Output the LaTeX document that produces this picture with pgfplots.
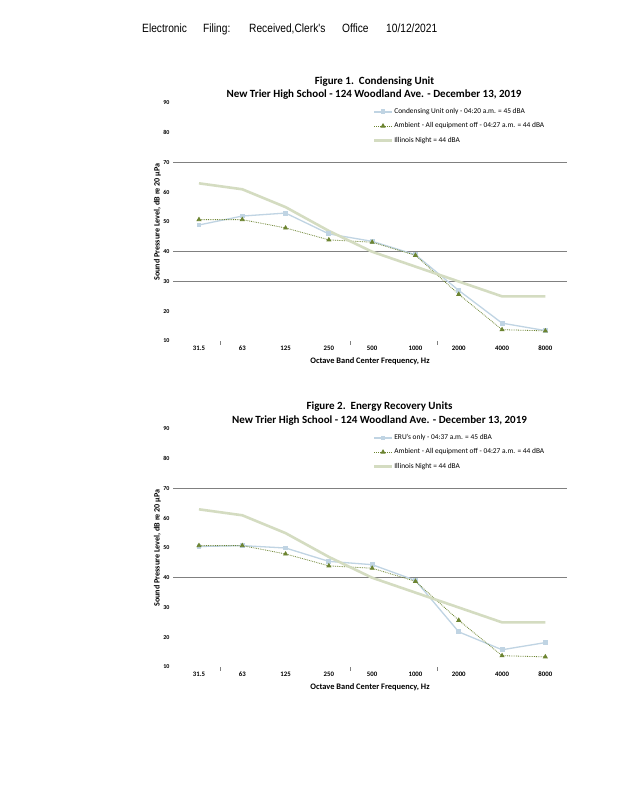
\documentclass[border=0pt]{standalone}
\usepackage{fontspec}
\setmainfont{Carlito}
\newfontfamily\hdrfont[FakeStretch=0.85]{Liberation Sans}
\usepackage{pgfplots}
\usepackage{pgfplotstable}
\pgfplotsset{compat=1.18}

\definecolor{cublue}{RGB}{192,212,227}
\definecolor{ambgreen}{RGB}{108,132,48}
\definecolor{ilgreen}{RGB}{212,220,193}
\definecolor{gridgray}{RGB}{128,128,128}

% x: 0=31.5 Hz ... 8=8000 Hz
\pgfplotstableread{
x  unit  amb   il
0  49.0  50.8  63
1  52.0  50.8  61
2  53.0  48.0  55
3  46.0  44.0  47
4  43.5  43.2  40
5  39.0  38.8  35
6  27.0  25.7  30
7  16.0  13.8  25
8  13.5  13.4  25
}\figone

\pgfplotstableread{
x  unit  amb   il
0  50.5  50.8  63
1  50.8  50.8  61
2  50.0  48.0  55
3  45.5  44.0  47
4  44.4  43.2  40
5  39.1  38.8  35
6  21.8  25.7  30
7  15.8  13.8  25
8  18.2  13.4  25
}\figtwo

\pgfplotsset{
  spl/.style={
    scale only axis, width=394pt, height=238pt,
    anchor=south west,
    xmin=-0.6, xmax=8.5, ymin=10, ymax=90,
    xtick={0,...,8},
    xticklabels={31.5,63,125,250,500,1000,2000,4000,8000},
    ytick={10,20,...,90},
    xtick pos=bottom, ytick pos=left,
    major tick length=0pt,
    axis line style={draw=none},
    /pgf/number format/assume math mode=true,
    x tick label style={yshift=-1.5pt, font=\bfseries\fontsize{6.8}{7}\selectfont},
    y tick label style={font=\bfseries\fontsize{6}{7}\selectfont},
    extra x ticks={0.5,3.5,5.5},
    extra x tick labels={},
    extra x tick style={major tick length=4pt, tick align=outside,
      tick style={draw=gridgray, line width=0.6pt}},
    extra y tick labels={},
    extra y tick style={grid=major,
      major grid style={draw=gridgray, line width=0.8pt}},
    xlabel={\bfseries Octave Band Center Frequency, Hz},
    xlabel style={at={(axis description cs:0.5,-0.083)}, anchor=center,
      font=\fontsize{8.4}{9}\selectfont},
    ylabel={\bfseries Sound Pressure Level, dB re 20 µPa},
    ylabel style={at={(axis description cs:-0.022,0.5)}, anchor=south,
      font=\fontsize{8.1}{9}\selectfont},
    legend style={at={(0.5,0.992)}, anchor=north west, draw=none, fill=none,
      font=\fontsize{7.4}{8}\selectfont, row sep=4.5pt,
      nodes={inner sep=1.5pt}},
    legend cell align=left,
  },
  unitline/.style={color=cublue, line width=1.3pt, mark=square*,
    mark size=1.8pt, mark options={solid, fill=cublue}},
  ambline/.style={color=ambgreen, line width=0.8pt, densely dotted,
    mark=triangle*, mark size=2.2pt, mark options={solid, fill=ambgreen}},
  illine/.style={color=ilgreen, line width=2.6pt},
}

\begin{document}
\begin{tikzpicture}
\path[use as bounding box, fill=white] (0,0) rectangle (618pt,800pt);

% filing stamp
\begin{scope}[every node/.style={anchor=base west, inner sep=0pt,
    font=\hdrfont\fontsize{12}{14}\selectfont}]
  \node at (142pt,767pt) {Electronic};
  \node at (203pt,767pt) {Filing:};
  \node at (249pt,767pt) {Received,Clerk's};
  \node at (342pt,767pt) {Office};
  \node at (386pt,767pt) {10/12/2021};
\end{scope}

% Figure 1
\node[font=\bfseries\fontsize{11}{13}\selectfont] at (374.5pt,718pt)
  {Figure 1.\ \ Condensing Unit};
\node[font=\bfseries\fontsize{11}{13}\selectfont] at (374pt,705pt)
  {New Trier High School - 124 Woodland Ave. - December 13, 2019};

\begin{axis}[spl, at={(173pt,459pt)}, extra y ticks={30,40,70}]
  \addplot[unitline] table[x=x, y=unit] {\figone};
  \addlegendentry{Condensing Unit only - 04:20 a.m. = 45 dBA}
  \addplot[ambline] table[x=x, y=amb] {\figone};
  \addlegendentry{Ambient - All equipment off - 04:27 a.m. = 44 dBA}
  \addplot[illine] table[x=x, y=il] {\figone};
  \addlegendentry{Illinois Night = 44 dBA}
  \draw[gridgray, line width=0.8pt] (rel axis cs:0,0) -- (rel axis cs:1,0) -- (rel axis cs:1,1);
\end{axis}

% Figure 2
\node[font=\bfseries\fontsize{11}{13}\selectfont] at (379.5pt,393.3pt)
  {Figure 2.\ \ Energy Recovery Units};
\node[font=\bfseries\fontsize{11}{13}\selectfont] at (379.5pt,379.3pt)
  {New Trier High School - 124 Woodland Ave. - December 13, 2019};

\begin{axis}[spl, at={(173pt,133pt)}, extra y ticks={40,70}]
  \addplot[unitline] table[x=x, y=unit] {\figtwo};
  \addlegendentry{ERU's only - 04:37 a.m. = 45 dBA}
  \addplot[ambline] table[x=x, y=amb] {\figtwo};
  \addlegendentry{Ambient - All equipment off - 04:27 a.m. = 44 dBA}
  \addplot[illine] table[x=x, y=il] {\figtwo};
  \addlegendentry{Illinois Night = 44 dBA}
  \draw[gridgray, line width=0.8pt] (rel axis cs:0,0) -- (rel axis cs:1,0) -- (rel axis cs:1,1);
\end{axis}
\end{tikzpicture}
\end{document}
